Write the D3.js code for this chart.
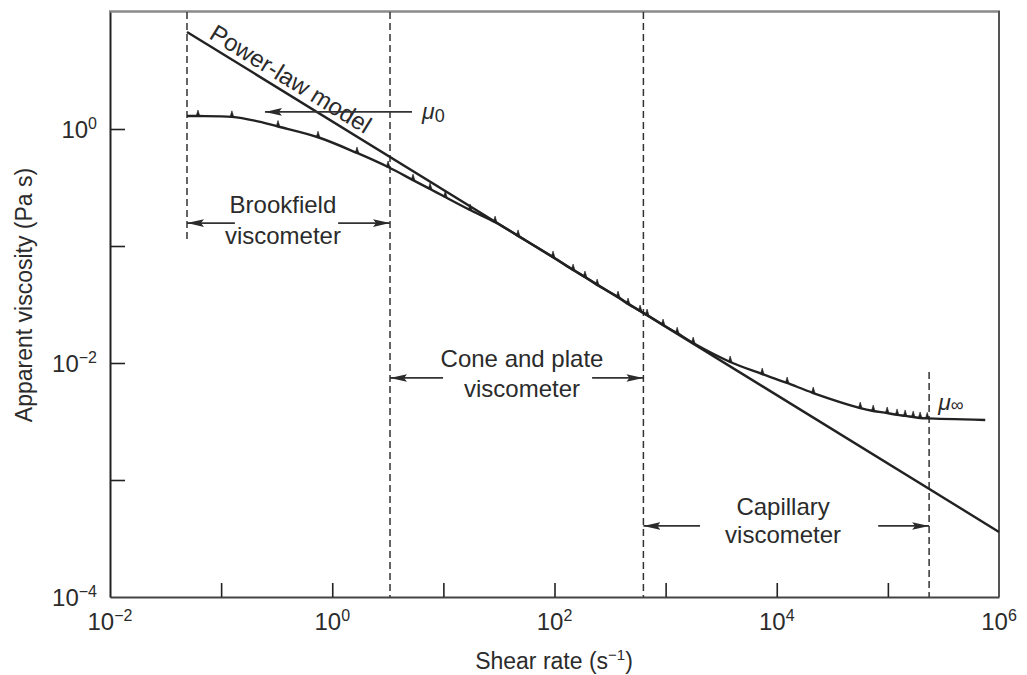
<!DOCTYPE html>
<html><head><meta charset="utf-8">
<script src="https://cdn.jsdelivr.net/npm/d3@7"></script>
<style>
body{margin:0;background:#fff}
text{font-family:"Liberation Sans",Arial,Helvetica,sans-serif;fill:#2b2b2b}
</style>
</head><body>
<svg id="chart" width="1027" height="675"></svg>
<script>
// ---- data ----
const xTickExponents = [-2, -1, 0, 1, 2, 3, 4, 5, 6];
const xLabelExponents = [-2, 0, 2, 4, 6];
const yTickExponents = [-4, -3, -2, -1, 0, 1];
const yLabelExponents = [-4, -2, 0];

const shearRate = [0.0493, 0.0619, 0.125, 0.2, 0.325, 0.745, 1.67, 3.18, 5.33, 7.59, 10.4, 17.4, 29.2, 47.0, 97.0,
  147, 188, 242, 373, 459, 589, 681, 948, 1270, 1770, 3810, 7400, 12400, 21300, 56400, 73800, 98600,
  121000, 143000, 169000, 195000, 226000, 752000];
const viscosity = [1.29, 1.29, 1.27, 1.18, 1.05, 0.85, 0.624, 0.473, 0.366, 0.307, 0.262, 0.203, 0.160, 0.122, 0.0805,
  0.0624, 0.0543, 0.0464, 0.0366, 0.0319, 0.0278, 0.0257, 0.0211, 0.0180, 0.0148, 0.0102, 0.00805, 0.00675,
  0.00554, 0.00412, 0.00389, 0.00374, 0.00360, 0.00353, 0.00345, 0.00339, 0.00336, 0.00326];
const markerRate = [0.0619, 0.125, 0.325, 0.745, 1.67, 3.18, 5.33, 7.59, 10.4, 17.4, 29.2, 47.0, 97.0,
  147, 188, 242, 373, 459, 589, 681, 948, 1270, 1770, 3810, 7400, 12400, 21300, 56400, 73800, 98600,
  121000, 143000, 169000, 195000, 226000];

const powerLawRate = [0.0493, 1e6];
const powerLawVisc = [6.75, 3.6e-4];

const boundaryRate = [0.0493, 3.31, 631, 235000];
const boundaryTop = [10, 10, 10, 0.00837];
const boundaryBottom = [0.108, 1e-4, 1e-4, 1e-4];

// arrows: [fromRate, toRate, visc]
const arrowFrom = [5.22, 0.133, 1.13, 9.93, 218, 2040, 81800];
const arrowTo = [0.248, 0.0493, 3.31, 3.31, 631, 631, 235000];
const arrowVisc = [1.40, 0.157, 0.157, 0.00745, 0.00745, 0.000405, 0.000405];

const labelText = ["Brookfield", "viscometer", "Cone and plate", "viscometer", "Capillary", "viscometer"];
const labelRate = [0.36, 0.36, 51, 51, 11400, 11400];
const labelVisc = [0.191, 0.104, 0.00925, 0.00512, 0.000502, 0.00029];

// ---- drawing ----
const svg = d3.select("#chart");
const x = d3.scaleLog().domain([1e-2, 1e6]).range([110, 999]);
const y = d3.scaleLog().domain([1e-4, 1e1]).range([597, 12]);
const ink = "#222";

// frame: top and right
svg.append("line").attr("x1", 109).attr("x2", 1000).attr("y1", 11.5).attr("y2", 11.5)
  .attr("stroke", "#8a8a8a").attr("stroke-width", 2.5);
svg.append("line").attr("x1", 999).attr("x2", 999).attr("y1", 11).attr("y2", 597)
  .attr("stroke", "#555").attr("stroke-width", 2);

function supLabel(sel, e) {
  sel.text(null);
  sel.append("tspan").text("10");
  sel.append("tspan").attr("dy", -9).attr("font-size", 16).text(e < 0 ? "\u2212" + (-e) : String(e));
}

// x axis
const xAxis = d3.axisBottom(x).tickValues(xTickExponents.map(e => Math.pow(10, e)))
  .tickSizeInner(-14).tickSizeOuter(0).tickFormat("");
const gx = svg.append("g").attr("transform", "translate(0,597)").call(xAxis);
gx.select(".domain").attr("stroke", "#444").attr("stroke-width", 2);
gx.selectAll(".tick line").attr("stroke", ink).attr("stroke-width", 1.6);
gx.selectAll(".tick").filter(d => Math.abs(Math.log10(d) - 6) < 0.01 || Math.abs(Math.log10(d) + 2) < 0.01).select("line").remove();

svg.append("g").selectAll("text").data(xLabelExponents).join("text")
  .attr("x", e => x(Math.pow(10, e))).attr("y", 630)
  .attr("text-anchor", "middle").attr("font-size", 24)
  .each(function (e) { supLabel(d3.select(this), e); });

// y axis
const yAxis = d3.axisLeft(y).tickValues(yTickExponents.map(e => Math.pow(10, e)))
  .tickSizeInner(-15).tickSizeOuter(0).tickFormat("");
const gy = svg.append("g").attr("transform", "translate(110,0)").call(yAxis);
gy.select(".domain").attr("stroke", ink).attr("stroke-width", 2);
gy.selectAll(".tick line").attr("stroke", ink).attr("stroke-width", 1.6);
gy.selectAll(".tick").filter(d => Math.abs(Math.log10(d) - 1) < 0.01 || Math.abs(Math.log10(d) + 4) < 0.01).select("line").remove();

svg.append("g").selectAll("text").data(yLabelExponents).join("text")
  .attr("x", 97).attr("y", e => y(Math.pow(10, e)) + 9)
  .attr("text-anchor", "end").attr("font-size", 24)
  .each(function (e) { supLabel(d3.select(this), e); });

// axis titles
const xt = svg.append("text").attr("x", 554).attr("y", 669).attr("text-anchor", "middle").attr("font-size", 23);
xt.append("tspan").text("Shear rate (s");
xt.append("tspan").attr("dy", -9).attr("font-size", 15).text("\u22121");
xt.append("tspan").attr("dy", 9).text(")");
svg.append("text").attr("transform", "translate(32,295) rotate(-90)").attr("text-anchor", "middle")
  .attr("font-size", 23).text("Apparent viscosity (Pa s)");

// boundaries (dashed)
svg.append("g").selectAll("line").data(boundaryRate).join("line")
  .attr("x1", d => x(d)).attr("x2", d => x(d))
  .attr("y1", (d, i) => y(boundaryTop[i])).attr("y2", (d, i) => y(boundaryBottom[i]))
  .attr("stroke", "#333").attr("stroke-width", 1.5).attr("stroke-dasharray", "7,4");

// power law
const pts = powerLawRate.map((r, i) => [r, powerLawVisc[i]]);
svg.append("path").datum(pts)
  .attr("d", d3.line().x(d => x(d[0])).y(d => y(d[1])))
  .attr("fill", "none").attr("stroke", ink).attr("stroke-width", 2.4);

// measured curve
const cpts = shearRate.map((r, i) => [r, viscosity[i]]);
svg.append("path").datum(cpts)
  .attr("d", d3.line().x(d => x(d[0])).y(d => y(d[1])).curve(d3.curveCatmullRom.alpha(0.5)))
  .attr("fill", "none").attr("stroke", ink).attr("stroke-width", 2.4);
const mpts = markerRate.map(r => [r, viscosity[shearRate.indexOf(r)]]);
svg.append("g").selectAll("path").data(mpts).join("path")
  .attr("d", d => `M${x(d[0]) - 1.8},${y(d[1])} L${x(d[0])},${y(d[1]) - 6} L${x(d[0]) + 1.8},${y(d[1])} Z`)
  .attr("fill", ink).attr("stroke", ink).attr("stroke-width", 0.6);

// power-law label rotated along the line
const px0 = x(powerLawRate[0]), py0 = y(powerLawVisc[0]);
const px1 = x(powerLawRate[1]), py1 = y(powerLawVisc[1]);
const ang = Math.atan2(py1 - py0, px1 - px0) * 180 / Math.PI;
svg.append("text").attr("transform", `translate(${px0},${py0}) rotate(${ang})`)
  .attr("x", 21).attr("y", -6).attr("font-size", 24).text("Power-law model");

// arrows
const defs = svg.append("defs");
defs.append("marker").attr("id", "ah").attr("markerUnits", "userSpaceOnUse")
  .attr("markerWidth", 18).attr("markerHeight", 10).attr("refX", 17).attr("refY", 5)
  .attr("orient", "auto").attr("viewBox", "0 0 18 10")
  .append("path").attr("d", "M0,1.2 L17,5 L0,8.8 L3,5 Z").attr("fill", "#2b2b2b");
svg.append("g").selectAll("line").data(arrowFrom).join("line")
  .attr("x1", d => x(d)).attr("x2", (d, i) => x(arrowTo[i]))
  .attr("y1", (d, i) => y(arrowVisc[i])).attr("y2", (d, i) => y(arrowVisc[i]))
  .attr("stroke", "#333").attr("stroke-width", 1.7).attr("marker-end", "url(#ah)");

// instrument labels
svg.append("g").selectAll("text").data(labelText).join("text")
  .attr("x", (d, i) => x(labelRate[i])).attr("y", (d, i) => y(labelVisc[i]))
  .attr("text-anchor", "middle").attr("font-size", 24).text(d => d);

// mu labels
const mu0 = svg.append("text").attr("x", x(6.43)).attr("y", y(1.40) + 7).attr("font-size", 23);
mu0.append("tspan").attr("font-style", "italic").text("\u03bc");
mu0.append("tspan").attr("dy", 3).attr("font-size", 18).text("0");
const muInf = svg.append("text").attr("x", x(284000)).attr("y", y(0.00396)).attr("font-size", 23);
muInf.append("tspan").attr("font-style", "italic").text("\u03bc");
muInf.append("tspan").attr("dy", 1).attr("font-size", 18).text("\u221e");
</script>
</body></html>
